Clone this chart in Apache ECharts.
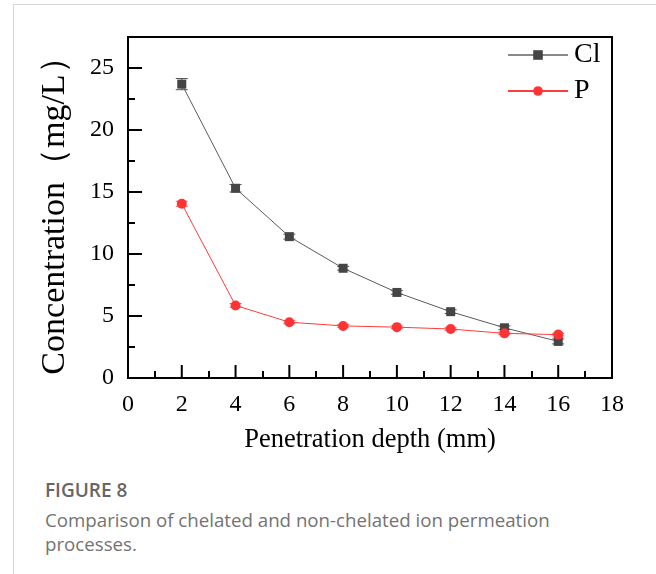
<!DOCTYPE html>
<html>
<head>
<meta charset="utf-8">
<script src="https://cdn.jsdelivr.net/npm/echarts@6/dist/echarts.min.js"></script>
<style>
  html, body { margin: 0; padding: 0; background: #fff; }
  body { width: 656px; height: 574px; position: relative; overflow: hidden; }
  .card { position: absolute; left: 13px; top: 4px; width: 660px; height: 600px; border: 1px solid #d6d6d6; box-sizing: border-box; }
  #chart { position: absolute; left: 0; top: 0; width: 656px; height: 470px; }
  .cap { position: absolute; left: 45px; top: 477px; font-family: "Open Sans", sans-serif; color: #737373; }
  .cap b { display: block; font-size: 19px; line-height: 26px; font-weight: 600; color: #666; margin-bottom: 5px; }
  .cap span { display: block; font-size: 18.7px; line-height: 24px; font-weight: 400; }
</style>
</head>
<body>
<div class="card"></div>
<div id="chart"></div>
<div class="cap"><b>FIGURE 8</b><span>Comparison of chelated and non-chelated ion permeation<br>processes.</span></div>
<script>
(function() {
  var depth = [2, 4, 6, 8, 10, 12, 14, 16];
  var clValues = [23.7, 15.3, 11.4, 8.85, 6.9, 5.35, 4.05, 2.95];
  var clErrors = [0.45, 0.3, 0.2, 0.15, 0.15, 0.15, 0.15, 0.2];
  var pValues = [14.05, 5.85, 4.5, 4.2, 4.1, 3.95, 3.6, 3.5];
  var pErrors = [0.2, 0.15, 0.12, 0.1, 0.1, 0.1, 0.1, 0.1];
  var xTicks = [0, 2, 4, 6, 8, 10, 12, 14, 16, 18];
  var yTicks = [0, 5, 10, 15, 20, 25];

  var ink = '#000';
  var serif = '"Liberation Serif", "Times New Roman", serif';

  var chart = echarts.init(document.getElementById('chart'), null, { renderer: 'canvas' });

  function pairs(vals) {
    return depth.map(function(d, i) { return [d, vals[i]]; });
  }
  function errData(vals, errs) {
    return depth.map(function(d, i) { return [d, vals[i] - errs[i], vals[i] + errs[i]]; });
  }
  function errRender(color) {
    return function(params, api) {
      var lo = api.coord([api.value(0), api.value(1)]);
      var hi = api.coord([api.value(0), api.value(2)]);
      var w = 6;
      var st = { stroke: color, lineWidth: 1 };
      return {
        type: 'group',
        children: [
          { type: 'line', shape: { x1: lo[0], y1: lo[1], x2: hi[0], y2: hi[1] }, style: st },
          { type: 'line', shape: { x1: lo[0] - w, y1: lo[1], x2: lo[0] + w, y2: lo[1] }, style: st },
          { type: 'line', shape: { x1: hi[0] - w, y1: hi[1], x2: hi[0] + w, y2: hi[1] }, style: st }
        ]
      };
    };
  }
  // major ticks drawn inward (axisTick.inside does not show here)
  function tickRender(horizontal) {
    return function(params, api) {
      var p = api.coord([api.value(0), api.value(1)]);
      var len = horizontal ? 13 : 14;
      var shape = horizontal
        ? { x1: p[0], y1: p[1], x2: p[0], y2: p[1] - len }
        : { x1: p[0], y1: p[1], x2: p[0] + len, y2: p[1] };
      return { type: 'line', shape: shape, style: { stroke: ink, lineWidth: 2 } };
    };
  }

  chart.setOption({
    animation: false,
    grid: {
      left: 128, top: 37, width: 484, height: 341,
      show: true, borderColor: ink, borderWidth: 2, backgroundColor: 'transparent'
    },
    legend: {
      orient: 'vertical',
      left: 507, top: 41, padding: 0,
      itemWidth: 60, itemHeight: 12, itemGap: 8,
      data: [
        { name: 'Cl', lineStyle: { color: '#8a8a8a' } },
        { name: 'P' }
      ],
      textStyle: { fontFamily: serif, fontSize: 28, color: ink, lineHeight: 26, padding: [0, 0, 0, 1] }
    },
    xAxis: {
      type: 'value', min: 0, max: 18, interval: 2,
      name: 'Penetration depth (mm)', nameLocation: 'middle', nameGap: 49,
      nameTextStyle: { fontFamily: serif, fontSize: 26.5, color: ink },
      axisLine: { show: true, lineStyle: { color: ink, width: 2 } },
      axisTick: { show: false, inside: true },
      minorTick: { show: true, splitNumber: 2, length: 7, lineStyle: { color: ink, width: 2 } },
      axisLabel: { fontFamily: serif, fontSize: 24, color: ink, margin: 15 },
      splitLine: { show: false }
    },
    yAxis: {
      type: 'value', min: 0, max: 27.5, interval: 5,
      name: 'Concentration（mg/L）', nameLocation: 'middle', nameGap: 56,
      nameTextStyle: { fontFamily: serif, fontSize: 34, color: ink },
      axisLine: { show: true, lineStyle: { color: ink, width: 2 } },
      axisTick: { show: false, inside: true },
      minorTick: { show: true, splitNumber: 2, length: 7, lineStyle: { color: ink, width: 2 } },
      axisLabel: { fontFamily: serif, fontSize: 24, color: ink, margin: 14, showMaxLabel: false },
      splitLine: { show: false }
    },
    series: [
      {
        name: 'x-ticks', type: 'custom', data: xTicks.map(function(v) { return [v, 0]; }),
        renderItem: tickRender(true), clip: false, silent: true, z: 5
      },
      {
        name: 'y-ticks', type: 'custom', data: yTicks.map(function(v) { return [0, v]; }),
        renderItem: tickRender(false), clip: false, silent: true, z: 5
      },
      {
        name: 'Cl-err', type: 'custom', data: errData(clValues, clErrors),
        renderItem: errRender('#555'), z: 1, silent: true
      },
      {
        name: 'P-err', type: 'custom', data: errData(pValues, pErrors),
        renderItem: errRender('#ff5555'), z: 1, silent: true
      },
      {
        name: 'Cl', type: 'line', data: pairs(clValues),
        symbol: 'rect', symbolSize: 9,
        itemStyle: { color: '#454545' },
        lineStyle: { color: '#5a5a5a', width: 1 },
        z: 3
      },
      {
        name: 'P', type: 'line', data: pairs(pValues),
        symbol: 'circle', symbolSize: 10,
        itemStyle: { color: '#ff3333' },
        lineStyle: { color: '#ff3b3b', width: 1 },
        z: 4
      }
    ]
  });

  window.addEventListener('resize', function() { chart.resize(); });
})();
</script>
</body>
</html>
